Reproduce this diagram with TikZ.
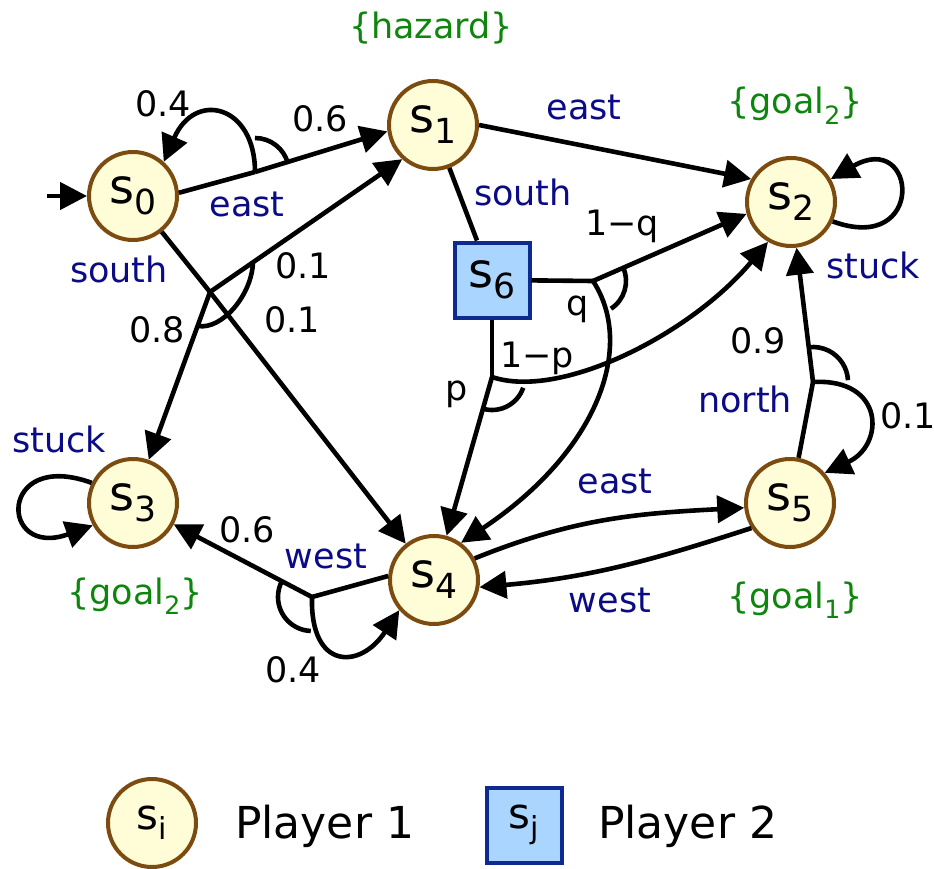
\documentclass[tikz,border=0pt]{standalone}
\usepackage{fontspec}
\setmainfont{DejaVu Sans}
\usepackage{graphicx}
\usetikzlibrary{arrows.meta,calc}
\definecolor{ponefill}{HTML}{FFFDD8}
\definecolor{poneline}{HTML}{7B4B10}
\definecolor{ptwofill}{HTML}{A9D5FF}
\definecolor{ptwoline}{HTML}{0C2A8F}
\definecolor{actcol}{HTML}{0B0B85}
\definecolor{propcol}{HTML}{0E860E}
\newcommand{\sbs}[2]{\raisebox{#1}{\scalebox{0.72}{#2}}}
\newcommand{\stt}[1]{s\sbs{-0.23em}{#1}}
\newcommand{\goal}[1]{\{goal\sbs{-0.3em}{#1}\}}
\newcommand{\lblfont}{\fontsize{35}{40}\selectfont}
\newcommand{\stfont}{\fontsize{48}{52}\selectfont}
\begin{document}
\begin{tikzpicture}[x=1pt,y=1pt,
  pone/.style={circle, draw=poneline, fill=ponefill, line width=4pt, minimum size=88pt, inner sep=0pt, font=\stfont},
  ptwo/.style={rectangle, draw=ptwoline, fill=ptwofill, line width=4pt, minimum size=75pt, inner sep=0pt, font=\stfont},
  edge/.style={line width=4.6pt},
  arr/.style={edge, -{Triangle[length=27pt,width=27pt]}},
  act/.style={text=actcol, font=\lblfont, anchor=base, inner sep=0pt},
  prb/.style={text=black, font=\lblfont, anchor=base, inner sep=0pt},
  prp/.style={text=propcol, font=\lblfont, anchor=base, inner sep=0pt},
  legtext/.style={font=\fontsize{44}{48}\selectfont, anchor=base west, inner sep=0pt}
]
\useasboundingbox (0,0) rectangle (934,-869);

% states
\node[pone] (s0) at (133,-196) {\stt{0}};
\node[pone] (s1) at (433,-125) {\stt{1}};
\node[pone] (s2) at (791,-202) {\stt{2}};
\node[pone] (s3) at (133,-503) {\stt{3}};
\node[pone] (s4) at (434,-580) {\stt{4}};
\node[pone] (s5) at (790,-503) {\stt{5}};
\node[ptwo] (s6) at (492,-280) {\stt{6}};

% branch points
\coordinate (init) at (47,-196);
\coordinate (B1) at (255,-172);
\coordinate (B2) at (210,-292);
\coordinate (B3) at (593,-281);
\coordinate (B4) at (492,-377);
\coordinate (B5) at (813,-382);
\coordinate (B6) at (312,-597);

% initial
\draw[arr] (init) -- (s0);

% s0 east
\draw[edge] (s0.4) -- (B1);
\draw[arr] (B1) -- (s1.188);
\draw[arr] (B1) .. controls (255,-105) and (195,-90) .. (s0.48);
\draw[edge] (B1) ++(15:34pt) arc[start angle=15,end angle=90,radius=34pt];

% s0 south
\draw[edge] (s0) -- (B2);
\draw[arr] (B2) -- (s4);
\draw[arr] (B2) -- (s1.228);
\draw[arr] (B2) -- (s3);
\coordinate (a2s) at (253,-262);
\coordinate (a2e) at (198,-326);
\draw[edge] (a2s) .. controls (252,-295) and (222,-330) .. (a2e);

% s1
\draw[arr] (s1.0) -- (s2.150);
\draw[edge] (s1) -- (s6);

% s6
\draw[edge] (s6) -- (B3);
\draw[edge] (s6) -- (B4);
\draw[arr] (B3) -- (s2.195);
\draw[arr] (B3) .. controls (635,-345) and (600,-450) .. (s4.54);
\draw[edge] (B3) ++(-57:33pt) arc[start angle=-57,end angle=23.5,radius=33pt];
\draw[arr] (B4) -- (s4);
\draw[arr] (B4) .. controls (560,-400) and (690,-335) .. (s2.240);
\draw[edge] (B4) ++(254:33pt) arc[start angle=254,end angle=341,radius=33pt];

% s5 north
\draw[edge] (s5) -- (B5);
\draw[arr] (B5) -- (s2);
\draw[arr] (B5) .. controls (885,-378) and (885,-445) .. (s5.41);
\draw[edge] (B5) ++(3:35pt) arc[start angle=3,end angle=97,radius=35pt];

% s4 west
\draw[edge] (s4.175) -- (B6);
\draw[arr] (B6) -- (s3);
\draw[arr] (B6) .. controls (310,-670) and (360,-670) .. (s4.221);
\draw[edge] (B6) ++(152:34pt) arc[start angle=152,end angle=268,radius=34pt];

% s4 <-> s5
\draw[arr] (s4.28) to[out=22,in=183] (s5.186);
\draw[arr] (s5.213) to[out=198,in=5] (s4.-9);

% self loops
\draw[arr] (s2.-25) .. controls +(-20:100) and +(30:100) .. (s2.30);
\draw[arr] (s3.154) .. controls +(160:100) and +(200:100) .. (s3.209);

% labels
\node[prp] (lhaz) at (431,-39) {\{hazard\}};
\node[prp] (lg2a) at (795,-114) {\goal{2}};
\node[prp] (lg2b) at (135,-604) {\goal{2}};
\node[prp] (lg1) at (795,-608) {\goal{1}};

\node[act] (l0e) at (247,-217) {east};
\node[act] (l0s) at (119,-282) {south};
\node[prb] (p04) at (163,-117) {0.4};
\node[prb] (p06) at (320,-132) {0.6};
\node[prb] (p01a) at (303,-278) {0.1};
\node[prb] (p01b) at (292,-332) {0.1};
\node[prb] (p08) at (157,-342) {0.8};

\node[act] (l1e) at (584,-120) {east};
\node[act] (l1s) at (523,-205) {south};
\node[prb] (pq1) at (622,-235) {1−q};
\node[prb] (pq) at (578,-315) {q};
\node[prb] (pp1) at (537,-367) {1−p};
\node[prb] (pp) at (457,-400) {p};

\node[prb] (p09) at (758,-353) {0.9};
\node[act] (l5n) at (745,-412) {north};
\node[prb] (p01c) at (908,-428) {0.1};
\node[act] (l2s) at (873,-278) {stuck};
\node[act] (l3s) at (59,-452) {stuck};

\node[prb] (p06b) at (247,-542) {0.6};
\node[act] (l4w) at (326,-568) {west};
\node[prb] (p04b) at (293,-682) {0.4};
\node[act] (l4e) at (615,-493) {east};
\node[act] (l5w) at (610,-612) {west};

% legend
\node[pone, font=\fontsize{42}{46}\selectfont] (leg1) at (152,-823) {s\sbs{-0.23em}{i}};
\node[legtext] (leg1t) at (235,-838) {Player 1};
\node[ptwo, font=\fontsize{42}{46}\selectfont] (leg2) at (524,-825) {s\sbs{-0.23em}{j}};
\node[legtext] (leg2t) at (598,-838) {Player 2};
\end{tikzpicture}
\end{document}
